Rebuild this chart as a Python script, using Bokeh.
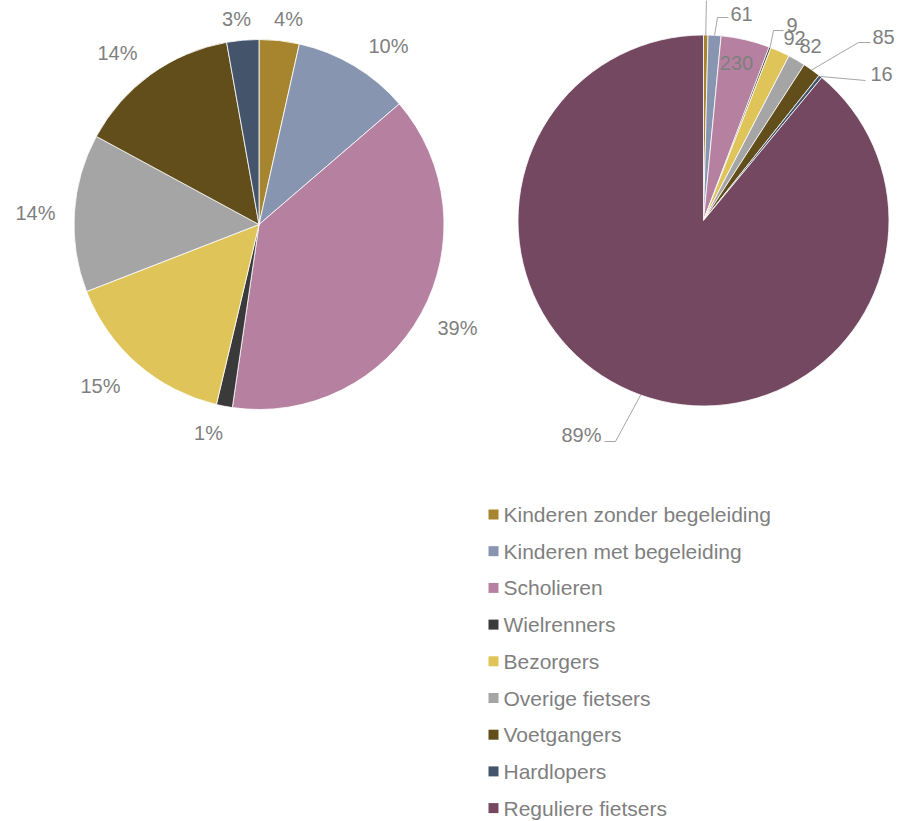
import math
from bokeh.plotting import figure
from bokeh.models import Range1d, ColumnDataSource
from bokeh.embed import file_html
from bokeh.resources import INLINE
from bokeh.core.properties import value

# ---------------- data ----------------
categories = ["Kinderen zonder begeleiding", "Kinderen met begeleiding", "Scholieren",
              "Wielrenners", "Bezorgers", "Overige fietsers", "Voetgangers",
              "Hardlopers", "Reguliere fietsers"]
colors = ["#A6852E", "#8795B0", "#B681A0", "#3A3A3A", "#DFC45A", "#A5A5A5",
          "#614E1A", "#44546A", "#754862"]

# left pie: share of the non-regular users (percent)
left_share = [3.5, 10.2, 38.6, 1.4, 15.4, 13.8, 14.3, 2.8]
left_labels = ["4%", "10%", "39%", "1%", "15%", "14%", "14%", "3%"]

# right pie: counts of all users
right_counts = [21, 61, 230, 9, 92, 82, 85, 16, 4822]
right_labels = ["21", "61", "230", "9", "92", "82", "85", "16", "89%"]

# ---------------- layout / style ----------------
W, H = 900, 821
TOP = 821  # picture-pixel -> data conversion (y up)
def Y(py):
    return TOP - py

LCX, LCY, LR = 258.5, 224, 185
RCX, RCY, RR = 703, 220, 185.5
TEXT_COLOR = "#7F7F7F"
LEADER_COLOR = "#A6A6A6"
FONT = value("Liberation Sans")

# left pie label positions (label box centres, picture pixels)
left_label_pos = [(288, 18), (388, 45), (457, 327), (208, 432), (100, 385),
                  (35, 212), (117, 52), (236, 18)]

# right pie label layout: (leader points after the rim anchor, text x, text y, align)
right_label_layout = [
    ([(706, -4)], None, None, None),
    ([(717, 17), (728, 17)], 730, 13, "left"),
    ([], 736, 62, "center"),
    ([(773, 30), (783, 30)], 786, 24, "left"),
    ([], 794, 37, "center"),
    ([], 810, 45, "center"),
    ([(858, 42), (870, 42)], 872, 36, "left"),
    ([(865, 80)], 870, 73, "left"),
    ([(615, 441), (604, 441)], 601, 434, "right"),
]

p = figure(width=W, height=H, x_range=Range1d(0, W), y_range=Range1d(Y(H), Y(0)),
           output_backend="svg", toolbar_location=None, min_border=0,
           x_axis_location=None, y_axis_location=None)
p.grid.visible = False
p.outline_line_color = None
p.background_fill_color = "white"
p.border_fill_color = "white"


def pie(values, cx, cy, r, cols):
    total = float(sum(values))
    starts, ends, mids = [], [], []
    cum = 0.0
    for v in values:
        a0 = cum / total
        cum += v
        a1 = cum / total
        starts.append(math.pi / 2 - 2 * math.pi * a1)
        ends.append(math.pi / 2 - 2 * math.pi * a0)
        mids.append(2 * math.pi * (a0 + a1) / 2)  # clockwise from top
    src = ColumnDataSource(dict(start=starts, end=ends, color=cols[:len(values)]))
    p.wedge(x=cx, y=Y(cy), radius=r, start_angle="start", end_angle="end",
            direction="anticlock", fill_color="color", line_color="white",
            line_width=0.8, source=src)
    return mids


# ---- left pie ----
pie(left_share, LCX, LCY, LR, colors)
p.text(x=[q[0] for q in left_label_pos], y=[Y(q[1]) for q in left_label_pos],
       text=left_labels, text_font=FONT, text_font_size="20px",
       text_color=TEXT_COLOR, text_align="center", text_baseline="middle")

# ---- right pie ----
rmids = pie(right_counts, RCX, RCY, RR, colors)
lead_xs, lead_ys = [], []
tx, ty, tt, ta = [], [], [], []
for i, th in enumerate(rmids):
    pts, x, y, align = right_label_layout[i]
    if pts:
        ax = RCX + RR * math.sin(th)
        ay = RCY - RR * math.cos(th)
        lead_xs.append([ax] + [q[0] for q in pts])
        lead_ys.append([Y(ay)] + [Y(q[1]) for q in pts])
    if x is not None:
        tx.append(x); ty.append(Y(y)); tt.append(right_labels[i]); ta.append(align)
p.multi_line(xs=lead_xs, ys=lead_ys, line_color=LEADER_COLOR, line_width=1)
p.text(x=tx, y=ty, text=tt, text_align=ta, text_font=FONT, text_font_size="20px",
       text_color=TEXT_COLOR, text_baseline="middle")

# ---- legend ----
leg_x0, leg_y0, leg_dy = 493, 514, 36.7
leg_y = [Y(leg_y0 + i * leg_dy) for i in range(len(categories))]
p.scatter(x=[leg_x0] * len(categories), y=leg_y, marker="square", size=10,
          fill_color=colors, line_color=None)
p.text(x=[leg_x0 + 10] * len(categories), y=leg_y, text=categories, text_font=FONT,
       text_font_size="21px", text_color=TEXT_COLOR, text_baseline="middle",
       text_align="left")

open("out.html", "w").write(file_html(p, INLINE))
